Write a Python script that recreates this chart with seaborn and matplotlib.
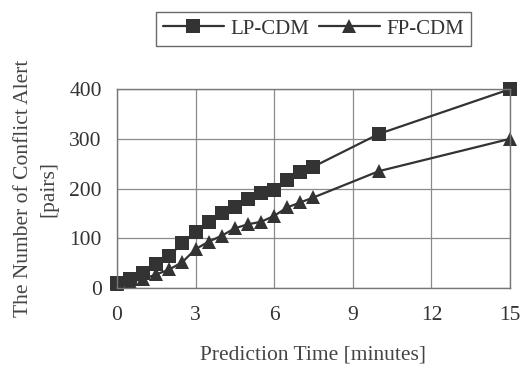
import numpy as np
import pandas as pd
import matplotlib
matplotlib.use('Agg')
import matplotlib.pyplot as plt
import seaborn as sns

# prediction time [minutes]
pred_time = [0, 0.5, 1, 1.5, 2, 2.5, 3, 3.5, 4, 4.5, 5, 5.5, 6, 6.5, 7, 7.5, 10, 15]
lp_cdm = [10, 18, 30, 48, 65, 90, 112, 133, 150, 163, 178, 190, 198, 217, 234, 244, 310, 400]
fp_cdm = [7, 12, 18, 27, 37, 52, 78, 93, 105, 120, 128, 133, 145, 162, 172, 182, 235, 300]

x_ticks = [0, 3, 6, 9, 12, 15]
y_ticks = [0, 100, 200, 300, 400]

df = pd.DataFrame({
    'time': pred_time * 2,
    'alerts': lp_cdm + fp_cdm,
    'method': ['LP-CDM'] * len(pred_time) + ['FP-CDM'] * len(pred_time),
})

sns.set_style('white')
plt.rcParams['font.family'] = ['Liberation Serif', 'DejaVu Serif']

fig = plt.figure(figsize=(5.22, 3.70), dpi=100)
ax = fig.add_axes([0.224, 0.222, 0.753, 0.537])

sns.lineplot(data=df, x='time', y='alerts', hue='method', style='method',
             markers={'LP-CDM': 's', 'FP-CDM': '^'}, dashes=False,
             palette={'LP-CDM': '#333333', 'FP-CDM': '#333333'},
             markersize=10.5, linewidth=1.6, markeredgewidth=0, ax=ax)
for ln in ax.lines:
    ln.set_clip_on(False)

ax.set_xlim(0, 15)
ax.set_ylim(0, 400)
ax.set_xticks(x_ticks)
ax.set_yticks(y_ticks)
ax.grid(True, color='#8a8a8a', linewidth=0.9)
for s in ax.spines.values():
    s.set_color('#777777')
    s.set_linewidth(1.0)
ax.tick_params(axis='x', labelsize=15.5, colors='#333333', length=0, pad=13)
ax.tick_params(axis='y', labelsize=15.5, colors='#333333', length=0, pad=11)
ax.set_xlabel('Prediction Time [minutes]', fontsize=15.5, color='#444444', labelpad=15)
ax.set_ylabel('The Number of Conflict Alert\n[pairs]', fontsize=15.5, color='#444444',
              labelpad=8, linespacing=1.45)

leg = ax.legend(loc='lower center', bbox_to_anchor=(0.5, 1.165), ncol=2, frameon=True,
                fancybox=False, edgecolor='#444444', fontsize=15, handlelength=2.9,
                handletextpad=0.3, columnspacing=0.5, borderpad=0.35)
leg.get_frame().set_linewidth(1.0)
for t in leg.get_texts():
    t.set_color('#333333')

fig.savefig('out.png', dpi=100)
